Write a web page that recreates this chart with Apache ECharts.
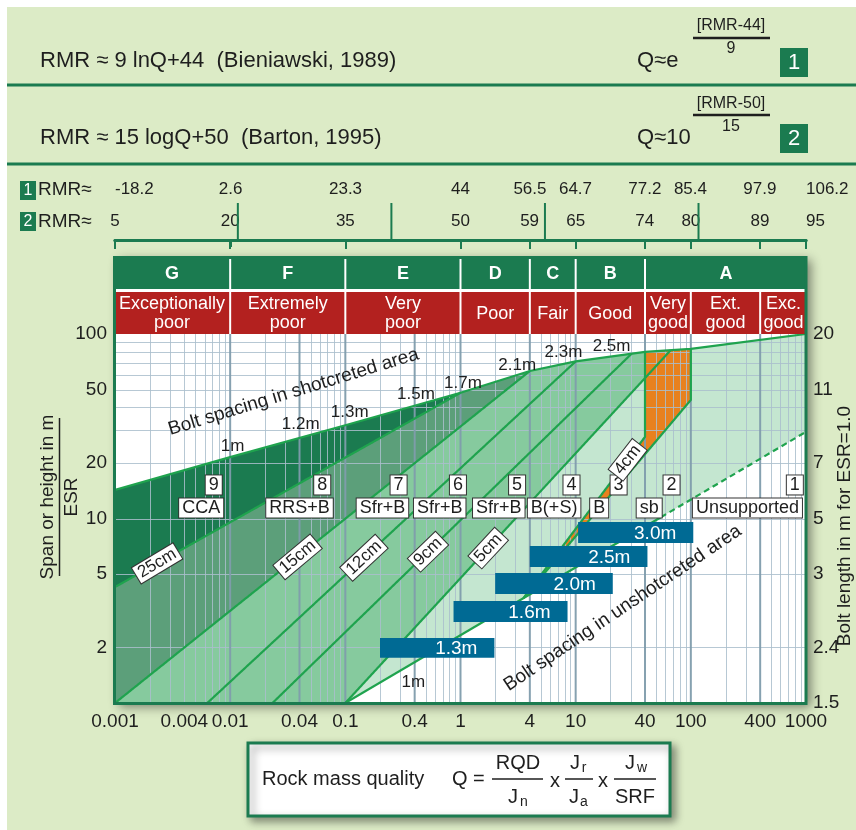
<!DOCTYPE html>
<html>
<head>
<meta charset="utf-8">
<script src="https://cdn.jsdelivr.net/npm/echarts@6/dist/echarts.min.js"></script>
<style>
html,body{margin:0;padding:0;background:#ffffff;}
#chart{width:856px;height:830px;}
</style>
</head>
<body>
<div id="chart"></div>
<script>
// ---------- axes and scales ----------
const qTicks = [0.001, 0.004, 0.01, 0.04, 0.1, 0.4, 1, 4, 10, 40, 100, 400, 1000];
const spanTicks = [2, 5, 10, 20, 50, 100];
const boltLengthAt = [1, 2, 5, 10, 20, 50, 100];
const boltLengthLabels = ['1.5', '2.4', '3', '5', '7', '11', '20'];

const rmr1Ticks = [-18.2, 2.6, 23.3, 44, 56.5, 64.7, 77.2, 85.4, 97.9, 106.2];
const rmr2Ticks = [5, 20, 35, 50, 59, 65, 74, 80, 89, 95];
const rmrClassLimits = [21, 41, 61, 81];

// ---------- rock mass classes ----------
const classLetters = ['G', 'F', 'E', 'D', 'C', 'B', 'A'];
const classLimits = [0.001, 0.01, 0.1, 1, 4, 10, 40, 1000];
const qualityNames = ['Exceptionally\npoor', 'Extremely\npoor', 'Very\npoor', 'Poor', 'Fair', 'Good', 'Very\ngood', 'Ext.\ngood', 'Exc.\ngood'];
const qualityLimits = [0.001, 0.01, 0.1, 1, 4, 10, 40, 100, 400, 1000];

// ---------- support chart geometry, [Q, span/ESR] ----------
const topLine = [[0.001, 14.3], [0.01, 21.5], [0.1, 32], [1, 48], [4, 63], [10, 71], [40, 80], [100, 83], [1000, 100]];
const line25cm = [[0.001, 4.25], [1, 48], [10, 107]];
const line15cm = [[0.001, 1], [4, 63], [40, 199]];
const line12cm = [[0.00633, 1], [10, 71], [100, 269]];
const line9cm = [[0.0233, 1], [30.6, 78.2], [300, 317]];
const line5cm = [[0.1, 1], [40, 57.7], [1000, 510]];
const line4cm = [[0.31, 0.5], [3.58, 3.75], [40, 27.7], [40, 300]];
const lineBolting = [[0.23, 0.5], [3.58, 3.75], [100, 43.9], [100, 300]];
const lineUnsupported = [[0.1, 1], [1000, 29.5], [10000, 68.8]];
const dashFromQ = 55;

const regionColors = {
  cca: '#1b7b50', rrs: '#5c9f7a', sfr: '#86ca9e', light: '#c4e6d0', bolt: '#e8811e', none: '#ffffff'
};

// reinforcement categories
const categoryNumbers = ['9', '8', '7', '6', '5', '4', '3', '2', '1'];
const categoryNames = ['CCA', 'RRS+B', 'Sfr+B', 'Sfr+B', 'Sfr+B', 'B(+S)', 'B', 'sb', 'Unsupported'];
const categoryNameQ = [0.0056, 0.04, 0.21, 0.66, 2.15, 6.5, 16, 43.5, 310];
const categoryNumberQ = [0.0072, 0.063, 0.29, 0.95, 3.1, 9.2, 23.6, 68, 800];
const categoryNameSpan = 11.4;
const categoryNumberSpan = 15.2;

// shotcrete thickness written on the category limits
const thicknessLabels = ['25cm', '15cm', '12cm', '9cm', '5cm', '4cm'];
const thicknessLines = [line25cm, line15cm, line12cm, line9cm, line5cm, line4cm];
const thicknessQ = [0.00232, 0.0385, 0.145, 0.522, 1.74, 28.3];
const thicknessAngle = [31, 40, 43, 44, 47, 52];

// bolt spacing in shotcreted area
const shotSpacingLabels = ['1m', '1.2m', '1.3m', '1.5m', '1.7m', '2.1m', '2.3m', '2.5m'];
const shotSpacingQ = [0.0105, 0.041, 0.109, 0.41, 1.05, 3.11, 7.83, 20.5];
const shotSpacingSpan = [24.7, 32.5, 37.8, 47.3, 54.3, 67.9, 79.9, 86.1];

// bolt spacing in unshotcreted area
const barLabels = ['1.3m', '1.6m', '2.0m', '2.5m', '3.0m'];
const barQFrom = [0.2, 0.87, 2, 4, 10.5];
const barQTo = [1.97, 8.5, 21, 42, 105];
const barSpanLow = [1.76, 2.75, 3.9, 5.46, 7.37];
const barSpanHigh = [2.25, 3.57, 5.07, 7.09, 9.56];

// grid lines of the diagram
const thickGridQ = [0.01, 0.04, 0.1, 0.4, 1, 4, 10, 40, 100, 400];
const gridSpans = [2, 5, 10, 20, 30, 40, 50, 60, 70, 80, 90];

const FONT = "'Liberation Sans', Arial, Helvetica, sans-serif";
const INK = '#1e1e1e';
const DARK_GREEN = '#1b7b50';
const LINE_GREEN = '#1fa34e';

const lg = Math.log10;
const pw = v => Math.pow(10, v);

// span of a polyline at a given Q, interpolated on log-log scales
function spanOn(line, q) {
  const lq = lg(q);
  for (let i = 0; i < line.length - 1; i++) {
    const a = line[i], b = line[i + 1];
    const la = lg(a[0]), lb = lg(b[0]);
    if (lq <= lb || i === line.length - 2) {
      if (lb === la) return b[1];
      const t = (lq - la) / (lb - la);
      return pw(lg(a[1]) + t * (lg(b[1]) - lg(a[1])));
    }
  }
}

// area to the right of / below a category limit
function areaBelow(line) {
  const first = line[0], last = line[line.length - 1];
  return line.concat([[1e5, last[1]], [1e5, 0.05], [first[0], 0.05]]);
}

// parts of a limit that lie between the unsupported line and the top line
function visibleRuns(line) {
  const runs = [];
  let cur = [];
  for (let i = 0; i < line.length - 1; i++) {
    const a = line[i], b = line[i + 1];
    const n = 300;
    for (let k = (i === 0 ? 0 : 1); k <= n; k++) {
      const t = k / n;
      const q = pw(lg(a[0]) + t * (lg(b[0]) - lg(a[0])));
      const s = pw(lg(a[1]) + t * (lg(b[1]) - lg(a[1])));
      const ok = s <= spanOn(topLine, q) * 1.002 && s >= spanOn(lineUnsupported, q) * 0.998;
      if (ok) cur.push([q, s]);
      else if (cur.length) { runs.push(cur); cur = []; }
    }
  }
  if (cur.length) runs.push(cur);
  return runs;
}

const fills = [
  { pts: [[1e-5, 0.05], [1e-5, 1e4], [1e5, 1e4], [1e5, 0.05]], color: regionColors.cca },
  { pts: areaBelow(line25cm), color: regionColors.rrs },
  { pts: areaBelow(line15cm), color: regionColors.sfr },
  { pts: areaBelow(line5cm), color: regionColors.light },
  { pts: areaBelow(line4cm), color: regionColors.bolt },
  { pts: areaBelow(lineBolting), color: regionColors.light },
  { pts: areaBelow(lineUnsupported), color: regionColors.none },
  { pts: topLine.concat([[1e5, 100], [1e5, 1e4], [1e-5, 1e4], [1e-5, topLine[0][1]]]), color: regionColors.none }
];

const limitLines = [line25cm, line15cm, line12cm, line9cm, line5cm, line4cm, lineBolting];

function fmtQ(v) { return String(+(+v).toPrecision(6)); }
function nearestIndex(arr, v) {
  let best = 0;
  arr.forEach((a, i) => { if (Math.abs(lg(a) - lg(v)) < Math.abs(lg(arr[best]) - lg(v))) best = i; });
  return best;
}

const thinGridQ = [];
for (let e = -3; e < 3; e++) {
  for (let m = 1; m < 10; m++) {
    const q = +(m * Math.pow(10, e)).toPrecision(6);
    if (q > 0.001 && thickGridQ.indexOf(q) < 0) thinGridQ.push(q);
  }
}

const chart = echarts.init(document.getElementById('chart'), null, { renderer: 'canvas', width: 856, height: 830 });

const txt = (x, y, text, size, align, z) => ({
  type: 'text', x: x, y: y, z: z || 2,
  style: { text: text, font: size + 'px ' + FONT, fill: INK, align: align || 'left', verticalAlign: 'middle' }
});
const hline = (x1, x2, y, w, z) => ({ type: 'line', z: z || 2, shape: { x1: x1, y1: y, x2: x2, y2: y }, style: { stroke: INK, lineWidth: w } });

const numBox = (x, y, label) => [
  { type: 'rect', z: 2, shape: { x: x, y: y, width: 28, height: 29 }, style: { fill: DARK_GREEN } },
  { type: 'text', z: 3, x: x + 14, y: y + 15, style: { text: label, font: '22px ' + FONT, fill: '#fff', align: 'center', verticalAlign: 'middle' } }
];
const smallBox = (x, y, label) => [
  { type: 'rect', z: 2, shape: { x: x, y: y, width: 16, height: 19 }, style: { fill: DARK_GREEN } },
  { type: 'text', z: 3, x: x + 8, y: y + 10, style: { text: label, font: '16px ' + FONT, fill: '#fff', align: 'center', verticalAlign: 'middle' } }
];

const graphics = [
  // page background
  { type: 'rect', z: -5, shape: { x: 7, y: 7, width: 849, height: 823 }, style: { fill: '#dcebc6' } },
  { type: 'line', z: -4, shape: { x1: 7, y1: 85, x2: 856, y2: 85 }, style: { stroke: DARK_GREEN, lineWidth: 3 } },
  { type: 'line', z: -4, shape: { x1: 7, y1: 164, x2: 856, y2: 164 }, style: { stroke: DARK_GREEN, lineWidth: 3 } },
  // conversion formulas
  txt(40, 61, 'RMR ≈ 9 lnQ+44  (Bieniawski, 1989)', 22),
  txt(637, 61, 'Q≈e', 22),
  txt(731, 26, '[RMR-44]', 16, 'center'),
  hline(693, 770, 38, 2.5),
  txt(731, 49, '9', 16, 'center'),
  ...numBox(780, 48, '1'),
  txt(40, 138, 'RMR ≈ 15 logQ+50  (Barton, 1995)', 22),
  txt(637, 138, 'Q≈10', 22),
  txt(731, 104, '[RMR-50]', 16, 'center'),
  hline(693, 770, 115, 2.5),
  txt(731, 127, '15', 16, 'center'),
  ...numBox(780, 124, '2'),
  // RMR scale captions
  ...smallBox(20, 181, '1'),
  txt(38, 190, 'RMR≈', 19),
  ...smallBox(20, 212, '2'),
  txt(38, 222, 'RMR≈', 19),
  // diagram frame with its shadow
  { type: 'rect', z: -3, shape: { x: 114, y: 257, width: 692, height: 447 }, style: { fill: '#ffffff', shadowBlur: 10, shadowColor: 'rgba(0,0,0,0.45)', shadowOffsetX: 5, shadowOffsetY: 3 } },
  { type: 'rect', z: 50, shape: { x: 114.5, y: 257.5, width: 691.5, height: 446 }, style: { fill: null, stroke: DARK_GREEN, lineWidth: 3 } },
  // axis titles
  { type: 'text', z: 2, x: 48, y: 497, rotation: Math.PI / 2, style: { text: 'Span or height in m', font: '19px ' + FONT, fill: INK, align: 'center', verticalAlign: 'middle' } },
  { type: 'line', z: 2, shape: { x1: 59.5, y1: 418, x2: 59.5, y2: 576 }, style: { stroke: INK, lineWidth: 1.5 } },
  { type: 'text', z: 2, x: 72, y: 497, rotation: Math.PI / 2, style: { text: 'ESR', font: '19px ' + FONT, fill: INK, align: 'center', verticalAlign: 'middle' } },
  { type: 'text', z: 2, x: 845, y: 526, rotation: Math.PI / 2, style: { text: 'Bolt length in m for ESR=1.0', font: '19px ' + FONT, fill: INK, align: 'center', verticalAlign: 'middle' } },
  // rock mass quality formula
  { type: 'rect', z: 1, shape: { x: 248, y: 743, width: 422, height: 73 }, style: { fill: '#ffffff', stroke: DARK_GREEN, lineWidth: 3, shadowBlur: 8, shadowColor: 'rgba(0,0,0,0.4)', shadowOffsetX: 4, shadowOffsetY: 4 } },
  txt(262, 779, 'Rock mass quality', 20),
  txt(452, 779, 'Q =', 20),
  txt(518, 763, 'RQD', 20, 'center'),
  hline(492, 543, 779, 1.5),
  txt(513, 797, 'J', 20, 'center'),
  txt(524, 802, 'n', 14, 'center'),
  txt(555, 781, 'x', 20, 'center'),
  txt(575, 763, 'J', 20, 'center'),
  txt(584, 768, 'r', 14, 'center'),
  hline(565, 593, 779, 1.5),
  txt(574, 797, 'J', 20, 'center'),
  txt(584, 802, 'a', 14, 'center'),
  txt(603, 781, 'x', 20, 'center'),
  txt(630, 763, 'J', 20, 'center'),
  txt(642, 768, 'w', 14, 'center'),
  hline(614, 656, 779, 1.5),
  txt(635, 797, 'SRF', 20, 'center')
];

const boxText = (x, y, text, size, rot) => ({
  type: 'text', x: x, y: y, rotation: rot || 0,
  style: {
    text: text, font: size + 'px ' + FONT, fill: INK, align: 'center', verticalAlign: 'middle',
    backgroundColor: '#ffffff', borderColor: '#333333', borderWidth: 1, padding: [1, 3, 0, 3]
  }
});

const option = {
  animation: false,
  backgroundColor: 'transparent',
  textStyle: { fontFamily: FONT },
  graphic: { elements: graphics },
  grid: [
    { left: 115, top: 334, width: 691, height: 369 },
    { left: 115, top: 258, width: 691, height: 76 },
    { left: 115, top: 203, width: 691, height: 37 }
  ],
  xAxis: [
    {
      type: 'log', logBase: 10, gridIndex: 0, min: 0.001, max: 1000,
      axisLine: { show: false }, axisTick: { show: false }, splitLine: { show: false },
      axisLabel: { customValues: qTicks, formatter: fmtQ, color: INK, fontSize: 19, margin: 9, fontFamily: FONT }
    },
    { type: 'log', logBase: 10, gridIndex: 1, min: 0.001, max: 1000, show: false },
    {
      type: 'value', gridIndex: 2, position: 'top', min: -18.2, max: 106.2,
      axisLine: { lineStyle: { color: DARK_GREEN, width: 3 } },
      axisTick: { customValues: rmr1Ticks, inside: true, length: 7, lineStyle: { color: DARK_GREEN, width: 2 } },
      axisLabel: { customValues: rmr1Ticks, color: INK, fontSize: 17, margin: 5, fontFamily: FONT, alignMinLabel: 'left', alignMaxLabel: 'left' },
      splitLine: { show: false }
    },
    {
      type: 'value', gridIndex: 2, position: 'bottom', min: 5, max: 95,
      axisLine: { lineStyle: { color: DARK_GREEN, width: 3 } },
      axisTick: { customValues: rmr2Ticks, inside: false, length: 9, lineStyle: { color: DARK_GREEN, width: 2 } },
      axisLabel: { customValues: rmr2Ticks, inside: true, color: INK, fontSize: 17, margin: 10, fontFamily: FONT, alignMaxLabel: 'left' },
      splitLine: { show: false }
    }
  ],
  yAxis: [
    {
      type: 'log', logBase: 10, gridIndex: 0, min: 1, max: 100,
      axisLine: { show: false }, axisTick: { show: false }, splitLine: { show: false },
      axisLabel: { customValues: spanTicks, formatter: fmtQ, color: INK, fontSize: 19, margin: 8, fontFamily: FONT }
    },
    {
      type: 'log', logBase: 10, gridIndex: 0, min: 1, max: 100, position: 'right',
      axisLine: { show: false }, axisTick: { show: false }, splitLine: { show: false },
      axisLabel: {
        customValues: boltLengthAt, color: INK, fontSize: 19, margin: 7, fontFamily: FONT,
        formatter: v => boltLengthLabels[nearestIndex(boltLengthAt, v)]
      }
    },
    { type: 'value', gridIndex: 1, min: 0, max: 1, show: false },
    { type: 'value', gridIndex: 2, min: 0, max: 1, show: false }
  ],
  series: [
    // category areas
    {
      type: 'custom', xAxisIndex: 0, yAxisIndex: 0, z: 2, clip: true, silent: true,
      data: fills.map((f, i) => [1, 1, i]),
      renderItem: (params, api) => {
        const f = fills[params.dataIndex];
        return { type: 'polygon', shape: { points: f.pts.map(p => api.coord(p)) }, style: { fill: f.color } };
      }
    },
    // grid
    {
      type: 'custom', xAxisIndex: 0, yAxisIndex: 0, z: 3, clip: true, silent: true,
      data: [[1, 1]],
      renderItem: (params, api) => {
        const children = [];
        const y0 = api.coord([1, 1])[1], y1 = api.coord([1, 100])[1];
        const x0 = api.coord([0.001, 1])[0], x1 = api.coord([1000, 1])[0];
        gridSpans.forEach(s => {
          const y = Math.round(api.coord([1, s])[1]) + 0.5;
          children.push({ type: 'line', shape: { x1: x0, y1: y, x2: x1, y2: y }, style: { stroke: 'rgba(170,190,204,0.85)', lineWidth: 1 } });
        });
        thinGridQ.forEach(q => {
          const x = Math.round(api.coord([q, 1])[0]) + 0.5;
          children.push({ type: 'line', shape: { x1: x, y1: y0, x2: x, y2: y1 }, style: { stroke: 'rgba(170,190,204,0.85)', lineWidth: 1 } });
        });
        thickGridQ.forEach(q => {
          const x = api.coord([q, 1])[0];
          children.push({ type: 'line', shape: { x1: x, y1: y0, x2: x, y2: y1 }, style: { stroke: 'rgba(128,156,172,0.95)', lineWidth: 2 } });
        });
        return { type: 'group', children: children };
      }
    },
    // category limits
    {
      type: 'custom', xAxisIndex: 0, yAxisIndex: 0, z: 4, clip: true, silent: true,
      data: [[1, 1]],
      renderItem: (params, api) => {
        const children = [];
        const stroke = (pts, dash) => children.push({
          type: 'polyline', shape: { points: pts.map(p => api.coord(p)) },
          style: { stroke: LINE_GREEN, lineWidth: 2.2, fill: null, lineDash: dash || null }
        });
        limitLines.forEach(l => visibleRuns(l).forEach(r => stroke(r)));
        stroke(topLine);
        stroke([lineUnsupported[0], [dashFromQ, spanOn(lineUnsupported, dashFromQ)]]);
        stroke([[dashFromQ, spanOn(lineUnsupported, dashFromQ)], lineUnsupported[1]], [6, 4]);
        return { type: 'group', children: children };
      }
    },
    // bolt spacing in unshotcreted area
    {
      type: 'custom', xAxisIndex: 0, yAxisIndex: 0, z: 5, clip: true, silent: true,
      data: barLabels.map((b, i) => [barQFrom[i], barSpanLow[i], i]),
      renderItem: (params, api) => {
        const i = params.dataIndex;
        const p0 = api.coord([barQFrom[i], barSpanHigh[i]]);
        const p1 = api.coord([barQTo[i], barSpanLow[i]]);
        return {
          type: 'group', children: [
            { type: 'rect', shape: { x: p0[0], y: p0[1], width: p1[0] - p0[0], height: p1[1] - p0[1] }, style: { fill: '#006a94' } },
            { type: 'text', x: p1[0] - 17, y: (p0[1] + p1[1]) / 2 + 1, style: { text: barLabels[i], font: '19px ' + FONT, fill: '#ffffff', align: 'right', verticalAlign: 'middle' } }
          ]
        };
      }
    },
    // labels inside the diagram
    {
      type: 'custom', xAxisIndex: 0, yAxisIndex: 0, z: 6, clip: false, silent: true,
      data: [[1, 1]],
      renderItem: (params, api) => {
        const children = [];
        categoryNames.forEach((n, i) => {
          const p = api.coord([categoryNameQ[i], categoryNameSpan]);
          children.push(boxText(p[0], p[1], n, 18));
          const pn = api.coord([categoryNumberQ[i], categoryNumberSpan]);
          children.push(boxText(pn[0], pn[1], categoryNumbers[i], 18));
        });
        thicknessLabels.forEach((t, i) => {
          const q = thicknessQ[i];
          const p = api.coord([q, spanOn(thicknessLines[i], q)]);
          children.push(boxText(p[0], p[1], t, 17, thicknessAngle[i] * Math.PI / 180));
        });
        shotSpacingLabels.forEach((t, i) => {
          const p = api.coord([shotSpacingQ[i], shotSpacingSpan[i]]);
          children.push({ type: 'text', x: p[0], y: p[1], style: { text: t, font: '17px ' + FONT, fill: INK, align: 'center', verticalAlign: 'middle' } });
        });
        const p1m = api.coord([0.39, 1.3]);
        children.push({ type: 'text', x: p1m[0], y: p1m[1], style: { text: '1m', font: '17px ' + FONT, fill: INK, align: 'center', verticalAlign: 'middle' } });
        const ps = api.coord([0.0355, 48.5]);
        children.push({ type: 'text', x: ps[0], y: ps[1], rotation: 17 * Math.PI / 180, style: { text: 'Bolt spacing in shotcreted area', font: '19px ' + FONT, fill: INK, align: 'center', verticalAlign: 'middle' } });
        const pu = api.coord([25.6, 3.27]);
        children.push({ type: 'text', x: pu[0], y: pu[1], rotation: 34 * Math.PI / 180, style: { text: 'Bolt spacing in unshotcreted area', font: '19px ' + FONT, fill: INK, align: 'center', verticalAlign: 'middle' } });
        return { type: 'group', children: children };
      }
    },
    // rock mass class header
    {
      type: 'custom', xAxisIndex: 1, yAxisIndex: 2, z: 6, clip: false, silent: true,
      data: [[1, 0.5]],
      renderItem: (params, api) => {
        const children = [];
        const yTop = api.coord([1, 1])[1], yMid1 = api.coord([1, 0.592])[1], yMid2 = api.coord([1, 0.553])[1], yBot = api.coord([1, 0])[1];
        children.push({ type: 'rect', shape: { x: api.coord([0.001, 0])[0], y: yTop, width: api.coord([1000, 0])[0] - api.coord([0.001, 0])[0], height: yBot - yTop }, style: { fill: '#ffffff' } });
        classLetters.forEach((c, i) => {
          const xa = api.coord([classLimits[i], 0])[0] + (i === 0 ? 0 : 1);
          const xb = api.coord([classLimits[i + 1], 0])[0] - (i === classLetters.length - 1 ? 0 : 1);
          children.push({ type: 'rect', shape: { x: xa, y: yTop, width: xb - xa, height: yMid1 - yTop }, style: { fill: DARK_GREEN } });
          children.push({ type: 'text', x: (xa + xb) / 2, y: (yTop + yMid1) / 2 + 1, style: { text: c, font: 'bold 18px ' + FONT, fill: '#ffffff', align: 'center', verticalAlign: 'middle' } });
        });
        qualityNames.forEach((n, i) => {
          const xa = api.coord([qualityLimits[i], 0])[0] + (i === 0 ? 0 : 1);
          const xb = api.coord([qualityLimits[i + 1], 0])[0] - (i === qualityNames.length - 1 ? 0 : 1);
          children.push({ type: 'rect', shape: { x: xa, y: yMid2, width: xb - xa, height: yBot - yMid2 }, style: { fill: '#b3211f' } });
          children.push({ type: 'text', x: (xa + xb) / 2, y: (yMid2 + yBot) / 2 + 1, style: { text: n, font: '18px ' + FONT, fill: '#ffffff', align: 'center', verticalAlign: 'middle', lineHeight: 19 } });
        });
        return { type: 'group', children: children };
      }
    },
    // RMR class limits between the two RMR scales
    {
      type: 'custom', xAxisIndex: 3, yAxisIndex: 3, z: 6, clip: false, silent: true,
      data: rmrClassLimits.map(v => [v, 0]),
      renderItem: (params, api) => {
        const v = rmrClassLimits[params.dataIndex];
        const a = api.coord([v, 0]), b = api.coord([v, 1]);
        return { type: 'line', shape: { x1: a[0], y1: a[1], x2: b[0], y2: b[1] }, style: { stroke: DARK_GREEN, lineWidth: 2 } };
      }
    }
  ]
};

chart.setOption(option);
</script>
</body>
</html>
